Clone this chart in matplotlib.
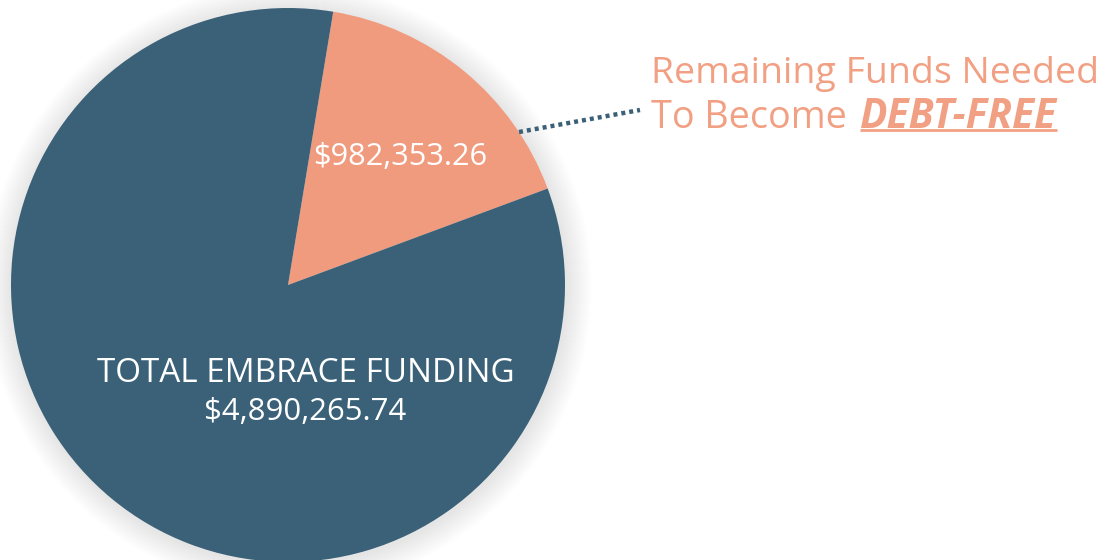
import matplotlib
matplotlib.use("Agg")
import matplotlib.pyplot as plt
from matplotlib.patches import Circle

labels = ["Remaining Funds Needed", "TOTAL EMBRACE FUNDING"]
values = [982353.26, 4890265.74]
value_texts = ["$982,353.26", "$4,890,265.74"]
colors = ["#F19B7E", "#3A6178"]
text_orange = "#F2A083"

W, H = 1118, 560
fig = plt.figure(figsize=(W / 100, H / 100), dpi=100)
ax = fig.add_axes([0, 0, 1, 1])
ax.set_xlim(0, W)
ax.set_ylim(0, H)
ax.set_aspect("equal")
ax.axis("off")

cx, cy, R = 288, H - 285, 277

# soft shadow
for k in range(26, 0, -1):
    ax.add_patch(Circle((cx + 1, cy - 2), R + k, color="#000000", alpha=0.005, lw=0, zorder=0))

ax.pie(values, colors=colors, startangle=80.6, counterclock=False,
       center=(cx, cy), radius=R, frame=True,
       wedgeprops=dict(linewidth=0))
ax.set_xlim(0, W)
ax.set_ylim(0, H)
ax.axis("off")

fam = ["Open Sans", "DejaVu Sans"]
fig.canvas.draw()
rend = fig.canvas.get_renderer()


def fit_text(x, y, s, target_w, ha="left", **kw):
    t = ax.text(x, y, s, ha=ha, va="center", **kw)
    fs = t.get_fontsize()
    for _ in range(3):
        w = t.get_window_extent(rend).width
        fs = fs * target_w / w
        t.set_fontsize(fs)
    return t


dy = 4
fit_text(400, H - 153 - dy, value_texts[0], 174, ha="center", color="white", family=fam, fontsize=20)
fit_text(306, H - 370 - dy, labels[1], 418, ha="center", color="white", family=fam, fontsize=20)
fit_text(305, H - 408 - dy, value_texts[1], 202, ha="center", color="white", family=fam, fontsize=20)

fit_text(651, H - 70 - dy, labels[0], 447, color=text_orange, family=fam, fontsize=25)
fit_text(651, H - 114 - dy, "To Become", 196, color=text_orange, family=fam, fontsize=25)
fit_text(860, H - 114 - dy, "DEBT-FREE", 197, color=text_orange, family=fam,
         fontweight="bold", style="italic", fontsize=23)
ax.plot([860, 1057], [H - 130, H - 130], color=text_orange, lw=2, solid_capstyle="butt")

# leader line
ax.plot([519, 640], [H - 132, H - 110], color="#3A6178", lw=3.2,
        linestyle=(0, (0.9, 0.9)), dash_capstyle="butt")

fig.savefig("out.png", dpi=100)
